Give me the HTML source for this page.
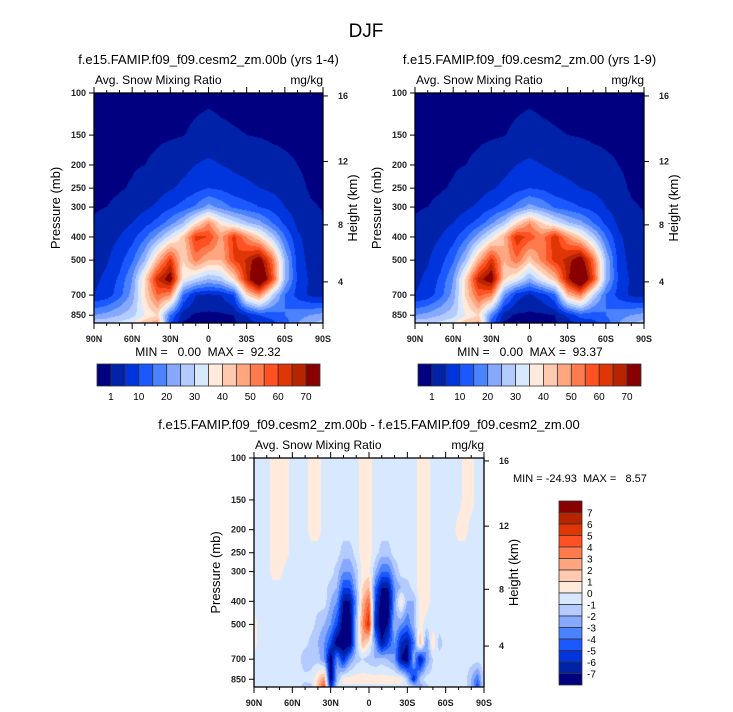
<!DOCTYPE html>
<html><head><meta charset="utf-8"><style>
html,body{margin:0;padding:0;background:#fff;}
#wrap{position:relative;width:733px;height:712px;overflow:hidden;font-family:"Liberation Sans",sans-serif;}
canvas{position:absolute;}
svg{position:absolute;left:0;top:0;}
</style></head><body>
<div id="wrap">
<canvas id="c1" width="229" height="230" style="left:94px;top:93px"></canvas>
<canvas id="c2" width="229" height="230" style="left:415px;top:93px"></canvas>
<canvas id="c3" width="230" height="229" style="left:254px;top:458px"></canvas>
<svg id="ov" width="733" height="712"></svg>
</div>
<script>
const levels=[100,150,200,250,300,350,400,500,600,700,850,925];
const latsTop=[90,80,70,60,50,40,30,20,10,0,-10,-20,-30,-40,-50,-60,-70,-80,-90];
const dataA=[
[0.2,0.2,0.2,0.2,0.2,0.2,0.2,0.2,0.3,0.4,0.3,0.3,0.2,0.2,0.2,0.2,0.2,0.2,0.2],
[0.3,0.3,0.3,0.4,0.5,0.6,0.7,0.9,1.5,2,1.5,1.2,1,0.8,0.6,0.5,0.4,0.3,0.3],
[0.4,0.5,0.6,0.8,1.0,1.5,2.5,3.5,5,6,5,4,3.5,3,2,1.5,1.0,0.6,0.5],
[0.5,0.6,0.8,1.2,2,3,4.5,6,8,10,9,7,6,5,4,3,1.5,0.8,0.6],
[0.8,1,1.5,2.5,4,6,9,12,16,22,18,14,12,10,8,5,2.5,1.2,0.9],
[1.2,1.8,3,5,8,12,18,25,38,50,38,32,26,22,15,9,4,1.8,1.2],
[1.8,3,5,8,14,22,32,42,62,60,48,62,50,40,28,15,6,2.5,1.5],
[3,4.5,8,14,25,45,62,40,52,45,45,60,66,75,55,25,8,3,2],
[4,6,11,20,40,65,75,36,30,25,28,40,65,85,60,25,9,4,3],
[5,7,13,22,40,55,50,15,5,4,5,10,40,50,30,15,8,4,3],
[20,22,25,28,35,40,15,2,0.5,0.3,0.4,1,5,10,12,15,18,20,22],
[30,30,32,35,45,50,10,0.5,0.2,0.2,0.2,0.5,2,6,8,12,20,25,28]];
const dataB=[
[0.2,0.2,0.2,0.2,0.2,0.2,0.2,0.2,0.3,0.4,0.3,0.3,0.2,0.2,0.2,0.2,0.2,0.2,0.2],
[0.3,0.3,0.3,0.4,0.5,0.6,0.7,0.9,1.5,2,1.5,1.2,1,0.8,0.6,0.5,0.4,0.3,0.3],
[0.4,0.5,0.6,0.8,1.0,1.5,2.5,3.5,5,6,5,4,3.5,3,2,1.5,1.0,0.6,0.5],
[0.5,0.6,0.8,1.2,2,3,4.5,6,8,10,9,7,6,5,4,3,1.5,0.8,0.6],
[0.8,1,1.5,2.5,4,6,9,12,17,22,19,14,12,10,8,5,2.5,1.2,0.9],
[1.2,1.8,3,5,8,12,19,27,40,50,40,33,26,22,15,9,4,1.8,1.2],
[1.8,3,5,8,14,23,34,45,64,58,52,64,50,40,28,15,6,2.5,1.5],
[3,4.5,8,14,26,46,63,45,54,42,52,62,67,76,55,25,8,3,2],
[4,6,11,20,41,67,76,41,34,24,34,44,68,86,60,25,9,4,3],
[5,7,13,22,41,56,52,20,7,4,7,14,44,52,30,15,8,4,3],
[20,22,25,28,35,40,18,2,0.5,0.3,0.4,1,6,12,12,15,18,20,22],
[30,30,32,35,45,48,12,0.5,0.2,0.2,0.2,0.5,2,6,8,12,20,25,28]];
const latsDiff=[90,85,80,75,70,65,60,55,50,45,40,35,30,25,20,15,10,5,0,-5,-10,-15,-20,-25,-30,-35,-40,-45,-50,-55,-60,-65,-70,-75,-80,-85,-90];
const dataDiff=[
[-.5,-.5,-.5,.5,.5,.5,-.5,-.5,-.5,.5,.5,-.5,-.5,-.5,-.5,-.5,-.5,.5,.5,-.5,-.5,-.5,-.5,-.5,-.5,-.5,.5,.5,-.5,-.5,-.5,-.5,-.5,.5,.5,-.5,-.5],
[-.5,-.5,-.5,.5,.5,.5,-.5,-.5,-.5,.5,.5,-.5,-.5,-.5,-.5,-.5,-.5,.5,.5,-.5,-.5,-.5,-.5,-.5,-.5,-.5,.5,.5,-.5,-.5,-.5,-.5,-.5,.5,.5,-.5,-.5],
[-.5,-.5,-.5,.5,.5,.5,-.5,-.5,-.5,.5,.5,-.5,-.5,-.5,-.5,-.5,-.5,.5,.5,-.5,-.5,-.5,-.5,-.5,-.5,-.5,.5,.5,-.5,-.5,-.5,-.5,.5,.5,-.5,-.5,-.5],
[-.5,-.5,-.5,.5,.5,.5,-.5,-.5,-.5,-.5,-.5,-.5,-.5,-.5,-1.5,-1.5,-.5,.5,.5,-.5,-1.5,-1.5,-.5,-.5,-.5,-.5,.5,.5,-.5,-.5,-.5,-.5,-.5,-.5,-.5,-.5,-.5],
[-.5,-.5,-.5,.5,.5,-.5,-.5,-.5,-.5,-.5,-.5,-.5,-.5,-1.5,-3,-3,-1.5,.5,.5,-2,-4,-4,-2,-.5,-.5,-.5,.5,.5,-.5,-.5,-.5,-.5,-.5,-.5,-.5,-.5,-.5],
[-.5,-.5,-.5,-.5,-.5,-.5,-.5,-.5,-.5,-.5,-.5,-.5,-1.5,-2,-5,-5,-2,1,2,-4,-7,-7,-3,-2,-1.5,-.5,.5,.5,-.5,-.5,-.5,-.5,-.5,-.5,-.5,-.5,-.5],
[-.5,-.5,-.5,-.5,-.5,-.5,-.5,-.5,-.5,-.5,-.5,-.5,-2,-3,-7,-7,-3,2,4,-5,-8,-8,-3,1,-2,-2,.5,.5,-.5,-.5,-.5,-.5,-.5,-.5,-.5,-.5,-.5],
[.5,-.5,-.5,-.5,-.5,-.5,-.5,-.5,-.5,-.5,-1.5,-2,-3,-5,-8,-8,-2,3,6,-6,-8,-7,-2,-3,-4,-2,.5,-.5,-.5,-.5,-.5,-.5,-.5,-.5,-.5,-.5,-.5],
[.5,-.5,-.5,-.5,-.5,-.5,-.5,-.5,-.5,-1.5,-2,-3,-5,-8,-8,-8,-2,2,.5,-3,-7,-5,-3,-6,-7,-4,2,-3,1,-1.5,-.5,-.5,-.5,-.5,-.5,-.5,-.5],
[-.5,-.5,-.5,-.5,-.5,-.5,-.5,-.5,-2,-1.5,-1.5,-3,-8,-3,-6,-3,-1.5,-1,-1.5,-2,-1.5,-2,-3,-7,-8,-2,-7,-3,-1,-.5,-.5,-.5,-.5,-.5,-.5,-.5,-.5],
[-.5,-.5,-.5,-.5,-.5,-.5,-.5,-.5,-.5,-.5,1,3,-8,-2,.5,.5,.5,.5,.5,.5,.5,.5,.5,.5,-1.5,-6,-1.5,-.5,-.5,-.5,-.5,-.5,-.5,-.5,-2,-4,-.5],
[-.5,-.5,-.5,-.5,-.5,-.5,-.5,-.5,-2,-1.5,2,5,-6,-.5,-.5,-.5,-.5,-.5,-.5,-.5,-.5,-.5,-.5,-.5,-.5,-.5,-3,-1.5,-.5,-.5,-.5,-.5,-.5,-.5,-2,-5,-.5]];
const boundsTop=[1,5,10,15,20,25,30,35,40,45,50,55,60,65,70];
const labelsTop=["1","10","20","30","40","50","60","70"];
const boundsDiff=[-7,-6,-5,-4,-3,-2,-1,0,1,2,3,4,5,6,7];
const labelsDiff=["7","6","5","4","3","2","1","0","-1","-2","-3","-4","-5","-6","-7"];
const colors=["#000080","#0022a8","#0034dc","#1c58ff","#4a82ff","#86a9ff","#b4cbff","#d8e9ff","#ffeadb","#ffcab0","#ffa681","#ff7b4e","#ff5122","#e03504","#b82300","#880000"];
const pTicks=[100,150,200,250,300,400,500,700,850];
const zTicks=[16,12,8,4];
const xLabels=["90N","60N","30N","0","30S","60S","90S"];

const PB=916;
function yOf(p,h){return h*Math.log10(p/100)/Math.log10(PB/100);}
function zToP(z){if(z<=11)return 1013.25*Math.pow(1-2.25577e-5*z*1000,5.2559);return 226.32*Math.exp(-(z-11)/6.3416);}
function hex(c){return [parseInt(c.substr(1,2),16),parseInt(c.substr(3,2),16),parseInt(c.substr(5,2),16)];}
function drawField(id,data,lats,bounds){
  const cv=document.getElementById(id),ctx=cv.getContext('2d'),w=cv.width,h=cv.height;
  const img=ctx.createImageData(w,h);const cols=colors.map(hex);
  const yl=levels.map(p=>yOf(p,h));
  for(let py=0;py<h;py++){
    const yy=py+0.5;let j=0;while(j<levels.length-2&&yl[j+1]<yy)j++;
    let fy=(yy-yl[j])/(yl[j+1]-yl[j]);fy=Math.max(0,Math.min(1,fy));
    for(let px=0;px<w;px++){
      const lat=90-(px+0.5)/w*180;let i=0;while(i<lats.length-2&&lats[i+1]>lat)i++;
      let fx=(lats[i]-lat)/(lats[i]-lats[i+1]);fx=Math.max(0,Math.min(1,fx));
      const v=(data[j][i]*(1-fx)+data[j][i+1]*fx)*(1-fy)+(data[j+1][i]*(1-fx)+data[j+1][i+1]*fx)*fy;
      let k=0;while(k<bounds.length&&v>=bounds[k])k++;
      const c=cols[k],o=(py*w+px)*4;img.data[o]=c[0];img.data[o+1]=c[1];img.data[o+2]=c[2];img.data[o+3]=255;
    }
  }
  ctx.putImageData(img,0,0);
}
drawField('c1',dataA,latsTop,boundsTop);
drawField('c2',dataB,latsTop,boundsTop);
drawField('c3',dataDiff,latsDiff,boundsDiff);

const NS="http://www.w3.org/2000/svg",ov=document.getElementById('ov');
function el(tag,attrs,txt){const e=document.createElementNS(NS,tag);for(const k in attrs)e.setAttribute(k,attrs[k]);if(txt!==undefined)e.textContent=txt;ov.appendChild(e);return e;}
function txt(x,y,s,size,anchor,name,extra){const t=el('text',Object.assign({x:x,y:y,'font-size':size,'text-anchor':anchor||'middle','font-family':'Liberation Sans, sans-serif',fill:'#000',style:'white-space:pre'},extra||{}),s);

return t;}
function line(x1,y1,x2,y2,name,sw){const l=el('line',{x1:x1,y1:y1,x2:x2,y2:y2,stroke:'#000','stroke-width':sw||1});

return l;}

function axes(x0,y0,w,h,title,tag){
  txt(x0+w/2,y0-29,title,13,'middle',tag+'-title');
  txt(x0+1,y0-9,'Avg. Snow Mixing Ratio',12,'start',tag+'-variable-label');
  txt(x0+w,y0-9,'mg/kg',12,'end',tag+'-units-label');
  const r=el('rect',{x:x0,y:y0,width:w,height:h,fill:'none',stroke:'#000','stroke-width':1.3});
  
  
  pTicks.forEach(p=>{const y=y0+yOf(p,h);line(x0-5,y,x0,y,tag+'-y-tick');txt(x0-8,y+3,String(p),9,'end',tag+'-y-tick-label',{'font-weight':'bold','fill':'#222'});});
  zTicks.forEach(z=>{const y=y0+yOf(zToP(z),h);line(x0+w,y,x0+w+5,y,tag+'-height-tick');txt(x0+w+15,y+3,String(z),9,'start',tag+'-height-tick-label',{'font-weight':'bold','fill':'#222'});});
  for(let k=0;k<=18;k++){const x=x0+w*k/18,major=k%3===0;line(x,y0+h,x,y0+h+(major?6:3),tag+'-x-tick');line(x,y0,x,y0-(major?6:3),tag+'-top-tick');}
  xLabels.forEach((s,k)=>txt(x0+w*k/6,y0+h+19,s,9,'middle',tag+'-x-tick-label',{'font-weight':'bold','fill':'#222'}));
  txt(0,0,'Pressure (mb)',13,'middle',tag+'-y-axis-title',{transform:`translate(${x0-34},${y0+h/2}) rotate(-90)`});
  txt(0,0,'Height (km)',13,'middle',tag+'-height-axis-title',{transform:`translate(${x0+w+34},${y0+h/2}) rotate(-90)`});
}
function hbar(x0,y0,w,h,tag){
  const bw=w/colors.length;
  colors.forEach((c,k)=>{const r=el('rect',{x:x0+k*bw,y:y0,width:bw,height:h,fill:c,stroke:'#333','stroke-width':0.8});
  
  });
  labelsTop.forEach((s,k)=>txt(x0+bw*(1+2*k),y0+h+14,s,10,'middle',tag+'-label'));
}
function vbar(x0,y0,w,h,tag){
  const bh=h/colors.length;
  colors.slice().reverse().forEach((c,k)=>{const r=el('rect',{x:x0,y:y0+k*bh,width:w,height:bh,fill:c,stroke:'#333','stroke-width':0.8});
  
  });
  labelsDiff.forEach((s,k)=>txt(x0+w+5,y0+bh*(k+1)+4,s,10,'start',tag+'-label'));
}
txt(366,37,'DJF',19,'middle','main-title');
axes(94,93,229,230,'f.e15.FAMIP.f09_f09.cesm2_zm.00b (yrs 1-4)','panel-a');
axes(415,93,229,230,'f.e15.FAMIP.f09_f09.cesm2_zm.00 (yrs 1-9)','panel-b');
axes(254,458,230,229,'f.e15.FAMIP.f09_f09.cesm2_zm.00b - f.e15.FAMIP.f09_f09.cesm2_zm.00','panel-diff');
txt(208,356,'MIN =   0.00  MAX =  92.32',12,'middle','panel-a-min-max');
txt(530,356,'MIN =   0.00  MAX =  93.37',12,'middle','panel-b-min-max');
txt(513,482,'MIN = -24.93  MAX =   8.57',11,'start','panel-diff-min-max');
hbar(97,364,223,22,'colorbar-a');
hbar(418,364,223,22,'colorbar-b');
vbar(559,501,23,184,'colorbar-diff');
</script>
</body></html>
